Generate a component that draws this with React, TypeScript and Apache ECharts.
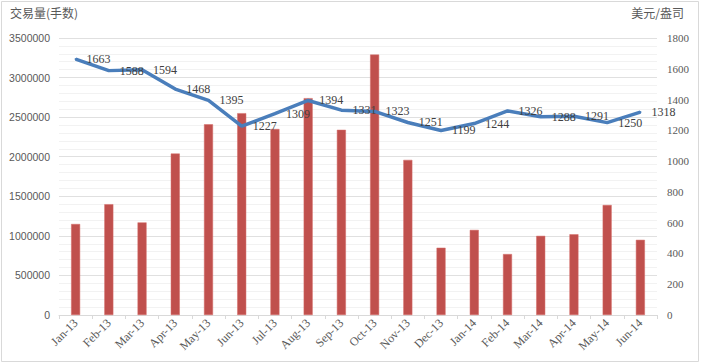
import React, { useEffect, useRef } from "react";
import * as echarts from "echarts";

const months = ["Jan-13","Feb-13","Mar-13","Apr-13","May-13","Jun-13","Jul-13","Aug-13","Sep-13","Oct-13","Nov-13","Dec-13","Jan-14","Feb-14","Mar-14","Apr-14","May-14","Jun-14"];
const volume = [1150000,1400000,1170000,2040000,2410000,2550000,2350000,2740000,2340000,3290000,1960000,850000,1075000,770000,1000000,1020000,1390000,950000];
const price = [1663,1588,1594,1468,1395,1227,1309,1394,1331,1323,1251,1199,1244,1326,1288,1291,1250,1318];
const leftTitle = "交易量(手数)";
const rightTitle = "美元/盎司";

export default function App() {
  const ref = useRef<HTMLDivElement>(null);
  useEffect(() => {
    if (!ref.current) return;
    const chart = echarts.init(ref.current, null, { renderer: "svg" });
    const serif = "'Liberation Serif', 'DejaVu Serif', serif";
    const sans = "'Noto Sans CJK SC', 'Noto Sans', sans-serif";
    chart.setOption({
      animation: false,
      backgroundColor: "#fff",
      graphic: [
        { type: "rect", shape: { x: 1.5, y: 1.5, width: 697, height: 360 }, style: { fill: "none", stroke: "#D9D9D9", lineWidth: 1 } },
        { type: "text", left: 10, top: 6, style: { text: leftTitle, fontSize: 12, fill: "#595959", fontFamily: sans } },
        { type: "text", right: 17, top: 6, style: { text: rightTitle, fontSize: 12, fill: "#595959", fontFamily: sans } },
      ],
      grid: { left: 59, right: 44, top: 38, bottom: 49, containLabel: false },
      xAxis: {
        type: "category",
        data: months,
        boundaryGap: true,
        axisLine: { lineStyle: { color: "#D9D9D9" } },
        axisTick: { show: true, length: 4, lineStyle: { color: "#D9D9D9" } },
        axisLabel: { rotate: 45, fontSize: 12, color: "#595959", fontFamily: serif, margin: 6, interval: 0 },
      },
      yAxis: [
        {
          type: "value", min: 0, max: 3500000, interval: 500000, position: "left",
          axisLine: { show: false }, axisTick: { show: false },
          axisLabel: { fontSize: 10.5, color: "#595959", fontFamily: "'Liberation Sans', sans-serif", margin: 9, formatter: (v: number) => String(v) },
          splitLine: { lineStyle: { color: "#E0E0E0" } },
          minorTick: { show: false, splitNumber: 5 },
          minorSplitLine: { show: true, lineStyle: { color: "#F2F2F2" } },
        },
        {
          type: "value", min: 0, max: 1800, interval: 200, position: "right",
          axisLine: { show: false }, axisTick: { show: false },
          axisLabel: { fontSize: 11, color: "#595959", fontFamily: serif, margin: 10, formatter: (v: number) => String(v) },
          splitLine: { show: false },
        },
      ],
      series: [
        {
          type: "bar", data: volume, yAxisIndex: 0, barWidth: 9,
          itemStyle: { color: "#C0504D", borderColor: "#D46A66", borderWidth: 0.5 },
        },
        {
          type: "line", data: price, yAxisIndex: 1, showSymbol: true, symbol: "circle", symbolSize: 2,
          itemStyle: { color: "#4A7EBB" },
          lineStyle: { color: "#4A7EBB", width: 3.5 },
          label: { show: true, position: "right", distance: 10, fontSize: 12, color: "#404040", fontFamily: serif },
          labelLayout: { hideOverlap: false },
        },
      ],
    });
    return () => chart.dispose();
  }, []);
  return <div ref={ref} style={{ position: "fixed", left: 0, top: 0, width: 701, height: 364 }} />;
}
